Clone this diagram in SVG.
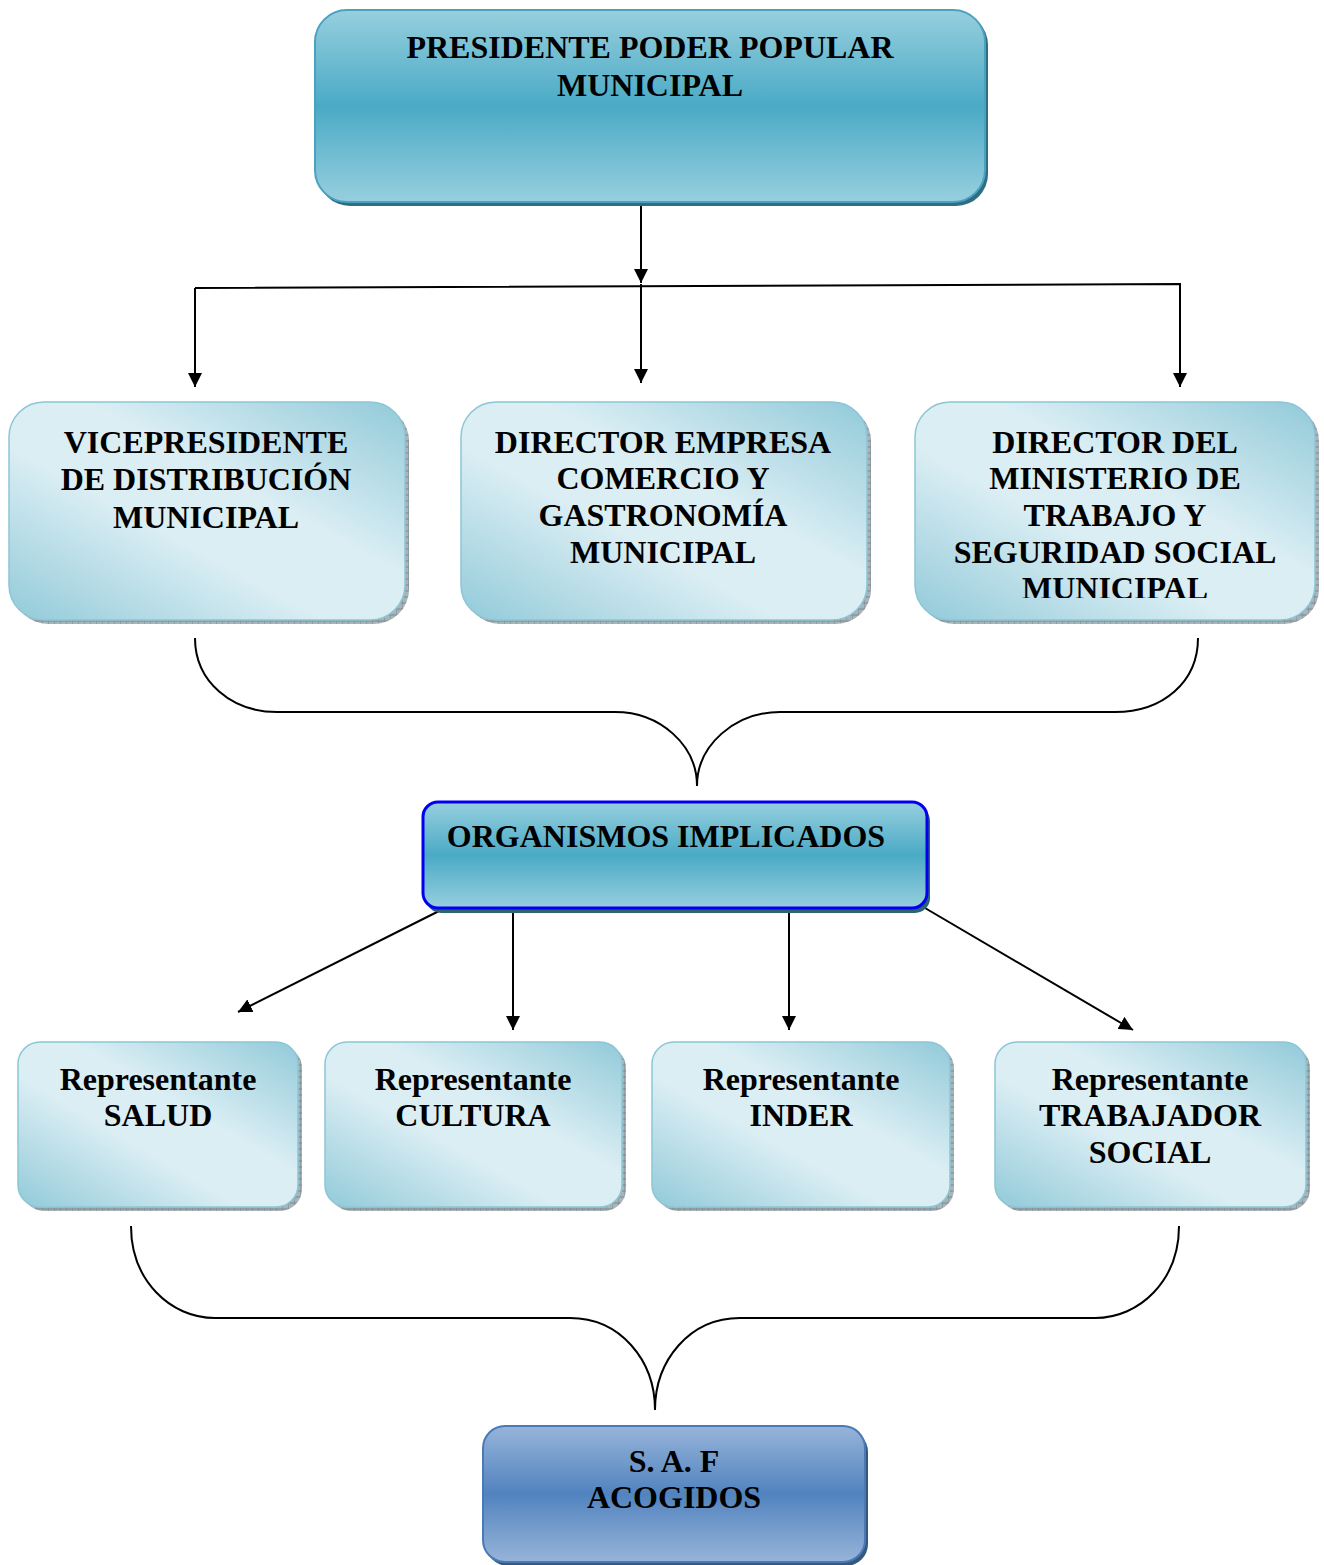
<svg xmlns="http://www.w3.org/2000/svg" width="1324" height="1565" viewBox="0 0 1324 1565">
<defs>
<linearGradient id="gTeal" x1="0" y1="0" x2="0" y2="1">
<stop offset="0" stop-color="#97cfde"/>
<stop offset="0.5" stop-color="#4aaac6"/>
<stop offset="1" stop-color="#97cfde"/>
</linearGradient>
<linearGradient id="gLight" x1="0" y1="1" x2="1" y2="0">
<stop offset="0" stop-color="#92cad9"/>
<stop offset="0.4" stop-color="#dbeef4"/>
<stop offset="0.6" stop-color="#dbeef4"/>
<stop offset="1" stop-color="#92cad9"/>
</linearGradient>
<linearGradient id="gBlue" x1="0" y1="0" x2="0" y2="1">
<stop offset="0" stop-color="#97b4d9"/>
<stop offset="0.5" stop-color="#5183bf"/>
<stop offset="1" stop-color="#97b4d9"/>
</linearGradient>
<pattern id="hatch" width="6" height="6" patternUnits="userSpaceOnUse">
<rect width="6" height="6" fill="#a9b4b8"/>
<path d="M0,0V6M0,3H6" stroke="#7c898e" stroke-width="1"/>
</pattern>
<marker id="ah" viewBox="0 0 10 10" refX="10" refY="5" markerWidth="14" markerHeight="14" markerUnits="userSpaceOnUse" orient="auto">
<path d="M0,0L10,5L0,10Z" fill="#000"/>
</marker>
<clipPath id="clip3"><rect x="915" y="402" width="400" height="196"/></clipPath>
</defs>
<style>
text{font-family:"Liberation Serif","Times New Roman",serif;font-weight:bold;font-size:32px;fill:#000;text-anchor:middle}
.teal{fill:url(#gTeal);stroke:#4aa2c0;stroke-width:2}
.light{fill:url(#gLight);stroke:#8cc6d6;stroke-width:1.5}
.sh{fill:url(#hatch)}
.line{fill:none;stroke:#000;stroke-width:2}
</style>
<rect width="1324" height="1565" fill="#fff"/>

<g id="connectors">
<path class="line" d="M641,195V283" marker-end="url(#ah)"/>
<path class="line" d="M195,288L1180,284V387" marker-end="url(#ah)"/>
<path class="line" d="M641,284V383" marker-end="url(#ah)"/>
<path class="line" d="M195,288V387" marker-end="url(#ah)"/>
<path class="line" d="M195,638C195,682 232,712 277,712L615,712C660,712 697,745 697,786C697,745 735,712 780,712L1115,712C1163,712 1198,682 1198,638"/>
<path class="line" d="M445,908L238,1012" marker-end="url(#ah)"/>
<path class="line" d="M513,908V1030" marker-end="url(#ah)"/>
<path class="line" d="M789,908V1030" marker-end="url(#ah)"/>
<path class="line" d="M925,908L1133,1030" marker-end="url(#ah)"/>
<path class="line" d="M131,1226C131,1280 170,1318 215,1318L570,1318C620,1318 655,1360 655,1410C655,1360 690,1318 740,1318L1095,1318C1140,1318 1179,1280 1179,1226"/>
</g>

<g id="presidente">
<rect x="318" y="13" width="670" height="193" rx="32" fill="#2e6e80"/>
<rect class="teal" x="315" y="10" width="670" height="192" rx="32"/>
<text x="650" y="58">PRESIDENTE PODER POPULAR</text>
<text x="650" y="96">MUNICIPAL</text>
</g>

<g id="vicepresidente">
<rect class="sh" x="13" y="406" width="396" height="218" rx="35"/>
<rect class="light" x="9" y="402" width="396" height="218" rx="35"/>
<text x="206" y="453">VICEPRESIDENTE</text>
<text x="206" y="490">DE DISTRIBUCIÓN</text>
<text x="206" y="528">MUNICIPAL</text>
</g>

<g id="director-comercio">
<rect class="sh" x="465" y="406" width="406" height="218" rx="35"/>
<rect class="light" x="461" y="402" width="406" height="218" rx="35"/>
<text x="663" y="453">DIRECTOR EMPRESA</text>
<text x="663" y="489">COMERCIO Y</text>
<text x="663" y="526">GASTRONOMÍA</text>
<text x="663" y="563">MUNICIPAL</text>
</g>

<g id="director-trabajo">
<rect class="sh" x="919" y="406" width="400" height="218" rx="35"/>
<rect class="light" x="915" y="402" width="400" height="218" rx="35"/>
<g clip-path="url(#clip3)">
<text x="1115" y="453">DIRECTOR DEL</text>
<text x="1115" y="489">MINISTERIO DE</text>
<text x="1115" y="526">TRABAJO Y</text>
<text x="1115" y="563">SEGURIDAD SOCIAL</text>
<text x="1115" y="599">MUNICIPAL</text>
</g>
</g>

<g id="organismos">
<rect x="426" y="806" width="504" height="107" rx="15" fill="#2b6474"/>
<rect x="423" y="802" width="504" height="106" rx="15" fill="url(#gTeal)" stroke="#0000ee" stroke-width="3"/>
<text x="666" y="847">ORGANISMOS IMPLICADOS</text>
</g>

<g id="salud">
<rect class="sh" x="22" y="1046" width="280" height="165" rx="22"/>
<rect class="light" x="18" y="1042" width="280" height="165" rx="22"/>
<text x="158" y="1090">Representante</text>
<text x="158" y="1126">SALUD</text>
</g>

<g id="cultura">
<rect class="sh" x="329" y="1046" width="297" height="165" rx="22"/>
<rect class="light" x="325" y="1042" width="297" height="165" rx="22"/>
<text x="473" y="1090">Representante</text>
<text x="473" y="1126">CULTURA</text>
</g>

<g id="inder">
<rect class="sh" x="656" y="1046" width="298" height="165" rx="22"/>
<rect class="light" x="652" y="1042" width="298" height="165" rx="22"/>
<text x="801" y="1090">Representante</text>
<text x="801" y="1126">INDER</text>
</g>

<g id="trabajador">
<rect class="sh" x="999" y="1046" width="311" height="165" rx="22"/>
<rect class="light" x="995" y="1042" width="311" height="165" rx="22"/>
<text x="1150" y="1090">Representante</text>
<text x="1150" y="1126">TRABAJADOR</text>
<text x="1150" y="1163">SOCIAL</text>
</g>

<g id="saf">
<rect x="486" y="1430" width="382" height="136" rx="22" fill="#36587e"/>
<rect x="483" y="1426" width="382" height="136" rx="22" fill="url(#gBlue)" stroke="#4a7ab5" stroke-width="2"/>
<text x="674" y="1472">S. A. F</text>
<text x="674" y="1508">ACOGIDOS</text>
</g>
</svg>
